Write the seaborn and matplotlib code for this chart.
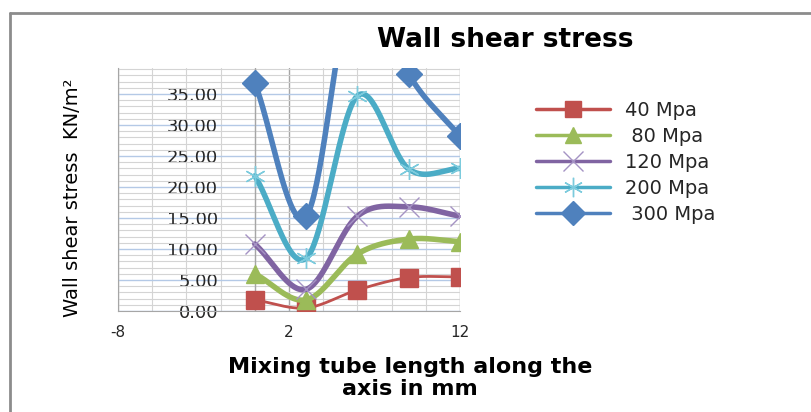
import numpy as np
import pandas as pd
import matplotlib
matplotlib.use("Agg")
import matplotlib.pyplot as plt
import seaborn as sns
from matplotlib.lines import Line2D
from matplotlib.ticker import MultipleLocator, FixedLocator

# Data
x_mm = [0, 3, 6, 9, 12]
series_names = ["40 Mpa", " 80 Mpa", "120 Mpa", "200 Mpa", " 300 Mpa"]
s40 = [1.8, 0.5, 3.4, 5.4, 5.5]
s80 = [6.0, 1.8, 9.2, 11.6, 11.2]
s120 = [10.8, 3.5, 15.3, 16.8, 15.3]
s200 = [21.8, 8.5, 34.7, 22.9, 23.0]
s300 = [36.8, 15.3, 56.0, 38.2, 28.2]
values = [s40, s80, s120, s200, s300]

colors = ["#C0504D", "#9BBB59", "#8064A2", "#4BACC6", "#4F81BD"]
marker_colors = ["#C0504D", "#9BBB59", "#A593C4", "#7CCBDD", "#4F81BD"]
markers = ["s", "^", "x", (6, 2, 0), "D"]
msizes = [13, 13, 15, 15, 13]
lws = [2.0, 4.0, 4.0, 4.0, 4.0]

y_ticks = [0, 5, 10, 15, 20, 25, 30, 35]
x_ticks = [-8, 2, 12]


def smooth(xs, ys, n=40):
    # Catmull-Rom style smoothing like the spreadsheet "smoothed line"
    xs = np.asarray(xs, float)
    ys = np.asarray(ys, float)
    k = len(xs)
    px, py = [], []
    for i in range(k - 1):
        mx0 = (xs[min(i + 1, k - 1)] - xs[max(i - 1, 0)]) / (2 if 0 < i else 1)
        my0 = (ys[min(i + 1, k - 1)] - ys[max(i - 1, 0)]) / (2 if 0 < i else 1)
        j = i + 1
        mx1 = (xs[min(j + 1, k - 1)] - xs[j - 1]) / (2 if j < k - 1 else 1)
        my1 = (ys[min(j + 1, k - 1)] - ys[j - 1]) / (2 if j < k - 1 else 1)
        t = np.linspace(0, 1, n)
        h00 = 2 * t**3 - 3 * t**2 + 1
        h10 = t**3 - 2 * t**2 + t
        h01 = -2 * t**3 + 3 * t**2
        h11 = t**3 - t**2
        px.extend(h00 * xs[i] + h10 * mx0 + h01 * xs[j] + h11 * mx1)
        py.extend(h00 * ys[i] + h10 * my0 + h01 * ys[j] + h11 * my1)
    return np.array(px), np.array(py)


sns.set_style("white")
plt.rcParams["font.family"] = ["DejaVu Sans"]

fig = plt.figure(figsize=(8.11, 4.12), dpi=100)
ax = fig.add_axes([118 / 811, 1 - 311 / 412, (460 - 118) / 811, (311 - 68) / 412])

# grid
ax.set_xlim(-8, 12)
ax.set_ylim(0, 39.2)
ax.xaxis.set_major_locator(FixedLocator(x_ticks))
ax.xaxis.set_minor_locator(MultipleLocator(2))
ax.yaxis.set_major_locator(FixedLocator(y_ticks))
ax.yaxis.set_minor_locator(MultipleLocator(1))
ax.grid(which="minor", axis="both", color="#d4d4d4", linewidth=0.8)
ax.grid(which="major", axis="y", color="#b4c9e6", linewidth=1.0)
ax.grid(which="major", axis="x", color="#a6a6a6", linewidth=1.0)
ax.axvline(0, color="#a6a6a6", linewidth=1.0, zorder=1)
ax.set_axisbelow(True)

for i, name in enumerate(series_names):
    sx, sy = smooth(x_mm, values[i])
    dfs = pd.DataFrame({"x": sx, "y": sy})
    sns.lineplot(data=dfs, x="x", y="y", sort=False, estimator=None,
                 color=colors[i], linewidth=lws[i], ax=ax, zorder=3 + i)
    ax.plot(x_mm, values[i], linestyle="none", marker=markers[i],
            markersize=msizes[i], color=marker_colors[i],
            markeredgecolor=marker_colors[i], markeredgewidth=1,
            zorder=3 + i)

for sp in ["top", "right"]:
    ax.spines[sp].set_visible(False)
ax.spines["left"].set_color("#a6a6a6")
ax.spines["bottom"].set_color("#a6a6a6")

ax.set_yticks(y_ticks)
ax.set_yticklabels([f"{v:.2f}" for v in y_ticks])
ax.tick_params(axis="y", which="both", length=0, pad=-72, labelsize=13,
               labelcolor="#262626")
ax.set_xticks(x_ticks)
ax.set_xticklabels([str(v) for v in x_ticks])
ax.tick_params(axis="x", which="both", length=4, color="#a6a6a6",
               labelsize=11, pad=6, labelcolor="#262626")
for lab in ax.get_yticklabels():
    lab.set_horizontalalignment("right")

ax.set_xlabel("")
ax.set_ylabel("")

fig.text(505 / 811, 1 - 40 / 412, "Wall shear stress", ha="center",
         va="center", fontsize=19, fontweight="bold", color="black")
fig.text(410 / 811, 1 - 378 / 412, "Mixing tube length along the\naxis in mm",
         ha="center", va="center", fontsize=16, fontweight="bold",
         linespacing=1.1, color="black")
fig.text(72 / 811, 1 - 198 / 412, "Wall shear stress  KN/m\u00b2", rotation=90,
         ha="center", va="center", fontsize=14, color="black",
         family=["Liberation Sans Narrow", "DejaVu Sans Condensed", "DejaVu Sans"])

handles = [Line2D([0], [0], color=colors[i], linewidth=2.5, marker=markers[i],
                  markersize=msizes[i] - 1, markerfacecolor=marker_colors[i],
                  markeredgecolor=marker_colors[i], markeredgewidth=1)
           for i in range(len(series_names))]
fig.legend(handles, series_names, loc="upper left",
           bbox_to_anchor=(528 / 811, 1 - 93 / 412), frameon=False,
           fontsize=14, handlelength=3.8, handletextpad=0.8,
           labelspacing=0.36, numpoints=1, borderaxespad=0,
           labelcolor="#262626")

# outer chart border (top and left visible)
fig.add_artist(Line2D([10 / 811, 1], [1 - 13 / 412, 1 - 13 / 412],
                      transform=fig.transFigure, color="#8c8c8c", linewidth=2))
fig.add_artist(Line2D([10 / 811, 10 / 811], [0, 1 - 13 / 412],
                      transform=fig.transFigure, color="#8c8c8c", linewidth=2))

fig.savefig("out.png", dpi=100)
